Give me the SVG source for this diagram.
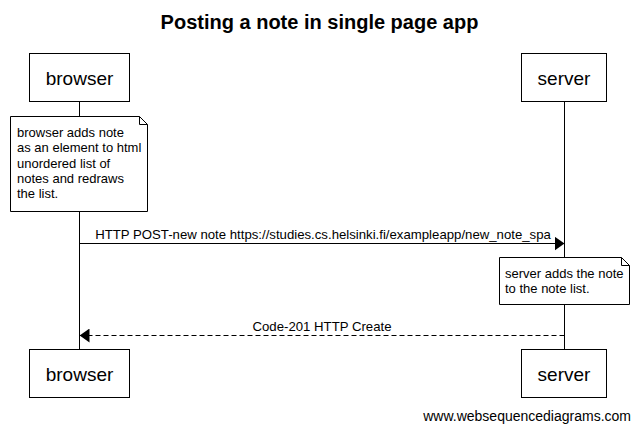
<svg xmlns="http://www.w3.org/2000/svg" width="639" height="432" viewBox="0 0 639 432">
<style>
text{font-family:"Liberation Sans",Arial,sans-serif;fill:#000}
.title{font-size:20px;font-weight:bold;text-anchor:middle}
.actor rect{fill:#fff;stroke:#000;stroke-width:1}
.actor text{font-size:19px;text-anchor:middle}
.life{stroke:#000;stroke-width:1;fill:none}
.note path{fill:#fff;stroke:#000;stroke-width:1}
.note text{font-size:13px}
.msg{stroke:#000;stroke-width:1;fill:none}
.dash{stroke-dasharray:5,3}
.lbl{font-size:13.2px;text-anchor:middle}
.foot{font-size:14px;text-anchor:end}
</style>
<defs>
<marker id="ah" markerWidth="10" markerHeight="14" refX="10" refY="7" orient="auto" markerUnits="userSpaceOnUse">
<path d="M0,0 L10,7 L0,14 Z" fill="#000"/>
</marker>
</defs>
<text class="title" x="319.5" y="29">Posting a note in single page app</text>
<g id="lifelines">
<line class="life" x1="79.5" y1="102" x2="79.5" y2="349"/>
<line class="life" x1="564.5" y1="102" x2="564.5" y2="349"/>
</g>
<g id="browser-top" class="actor">
<rect x="29.5" y="53.5" width="100" height="48"/>
<text x="79.5" y="85">browser</text>
</g>
<g id="server-top" class="actor">
<rect x="521.5" y="53.5" width="85" height="48"/>
<text x="564" y="85">server</text>
</g>
<g id="note-browser" class="note">
<path d="M10.5,116.5 H139.5 L147.5,124.5 V211.5 H10.5 Z M139.5,116.5 V124.5 H147.5"/>
<text x="17" y="137">browser adds note</text>
<text x="17" y="152.3">as an element to html</text>
<text x="17" y="167.6">unordered list of</text>
<text x="17" y="182.9">notes and redraws</text>
<text x="17" y="198.2">the list.</text>
</g>
<g id="note-server" class="note">
<path d="M499.5,257.5 H621.5 L629.5,265.5 V304.5 H499.5 Z M621.5,257.5 V265.5 H629.5"/>
<text x="505" y="278">server adds the note</text>
<text x="505" y="293.3">to the note list.</text>
</g>
<g id="connectors">
<line class="msg" x1="79.5" y1="243.5" x2="564.5" y2="243.5" marker-end="url(#ah)"/>
<text class="lbl" x="323" y="239">HTTP POST-new note https://studies.cs.helsinki.fi/exampleapp/new_note_spa</text>
<line class="msg dash" x1="564.5" y1="335.5" x2="79.5" y2="335.5" marker-end="url(#ah)"/>
<text class="lbl" x="322" y="331">Code-201 HTTP Create</text>
</g>
<g id="browser-bottom" class="actor">
<rect x="29.5" y="349.5" width="100" height="48"/>
<text x="79.5" y="381">browser</text>
</g>
<g id="server-bottom" class="actor">
<rect x="521.5" y="349.5" width="85" height="48"/>
<text x="564" y="381">server</text>
</g>
<text class="foot" x="631" y="421">www.websequencediagrams.com</text>
</svg>
